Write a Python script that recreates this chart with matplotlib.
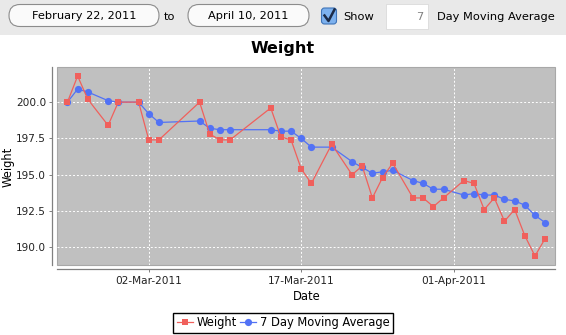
"""Weight log chart with a 7 day moving average, JFreeChart look."""

import matplotlib

matplotlib.use("Agg")

import matplotlib.dates as mdates
import matplotlib.pyplot as plt
import pandas as pd
from matplotlib.lines import Line2D
from matplotlib.patches import FancyBboxPatch, Rectangle

plt.rcParams["font.family"] = ["DejaVu Sans"]

# --- data --------------------------------------------------------------
dates = pd.to_datetime([
    "2011-02-22", "2011-02-23", "2011-02-24", "2011-02-26", "2011-02-27",
    "2011-03-01", "2011-03-02", "2011-03-03", "2011-03-07", "2011-03-08",
    "2011-03-09", "2011-03-10", "2011-03-14", "2011-03-15", "2011-03-16",
    "2011-03-17", "2011-03-18", "2011-03-20", "2011-03-22", "2011-03-23",
    "2011-03-24", "2011-03-25", "2011-03-26", "2011-03-28", "2011-03-29",
    "2011-03-30", "2011-03-31", "2011-04-02", "2011-04-03", "2011-04-04",
    "2011-04-05", "2011-04-06", "2011-04-07", "2011-04-08", "2011-04-09",
    "2011-04-10",
])
weight = [
    200.0, 201.8, 200.2, 198.4, 200.0,
    200.0, 197.4, 197.4, 200.0, 197.8,
    197.4, 197.4, 199.6, 197.6, 197.4,
    195.4, 194.4, 197.1, 195.0, 195.6,
    193.4, 194.8, 195.8, 193.4, 193.4,
    192.8, 193.4, 194.6, 194.4, 192.6,
    193.4, 191.8, 192.6, 190.8, 189.4,
    190.6,
]
moving_avg = [
    200.0, 200.9, 200.7, 200.1, 200.0,
    200.0, 199.2, 198.6, 198.7, 198.2,
    198.1, 198.1, 198.1, 198.0, 198.0,
    197.5, 196.9, 196.9, 195.9, 195.5,
    195.1, 195.2, 195.3, 194.6, 194.4,
    194.0, 194.0, 193.6, 193.7, 193.6,
    193.6, 193.3, 193.2, 192.9, 192.2,
    191.7,
]
tick_dates = pd.to_datetime(["2011-03-02", "2011-03-17", "2011-04-01"])
y_ticks = [190.0, 192.5, 195.0, 197.5, 200.0]
x_range = pd.to_datetime(["2011-02-21", "2011-04-11"])
y_range = (188.8, 202.4)

RED = "#F0605C"
BLUE = "#5272F5"

W, H = 566, 335
fig = plt.figure(figsize=(W / 100, H / 100), dpi=100)
fig.patch.set_facecolor("white")

# --- toolbar above the chart (pixel coordinates) -----------------------
ui = fig.add_axes([0, 0, 1, 1])
ui.set_xlim(0, W)
ui.set_ylim(H, 0)
ui.axis("off")
ui.add_patch(Rectangle((0, 0), W, 35, facecolor="#E9E9E9", edgecolor="none"))

btn_font = 8.2
for x0, w, label in [(9, 150, "February 22, 2011"), (188, 121, "April 10, 2011")]:
    ui.add_patch(FancyBboxPatch((x0, 4.5), w, 22, boxstyle="round,pad=0,rounding_size=11",
                                facecolor="#FAFAFA", edgecolor="#8C8C8C", lw=0.8))
    ui.text(x0 + w / 2, 16, label, ha="center", va="center", fontsize=btn_font)
ui.text(170, 16.5, "to", ha="center", va="center", fontsize=btn_font)

ui.add_patch(FancyBboxPatch((321.5, 8), 15, 16, boxstyle="round,pad=0,rounding_size=3",
                            facecolor="#7DB1EE", edgecolor="#3F74B8", lw=0.8))
ui.add_line(Line2D([324.5, 328.5, 334.5], [15.5, 21, 9.5], color="#1C2B47", lw=1.8))
ui.text(343, 16.5, "Show", ha="left", va="center", fontsize=btn_font)

ui.add_patch(Rectangle((386, 4), 42, 25, facecolor="white", edgecolor="#DADADA", lw=0.6))
ui.text(423, 16.5, "7", ha="right", va="center", fontsize=btn_font, color="#808080")
ui.text(437, 16.5, "Day Moving Average", ha="left", va="center", fontsize=btn_font)

# --- chart -----------------------------------------------------------------
fig.text(W / 2 / W, 1 - 49 / H, "Weight", ha="center", va="center",
         fontsize=11.5, fontweight="bold")
fig.text(8.5 / W, 1 - 167 / H, "Weight", ha="center", va="center",
         rotation=90, fontsize=8.3)

ax = fig.add_axes([57.3 / W, 1 - 264.7 / H, 498 / W, 197.4 / H])
ax.set_facecolor("#C0C0C0")
ax.patch.set_edgecolor("#A8A8A8")
ax.patch.set_linewidth(0.8)

ax.plot(dates, moving_avg, color=BLUE, lw=0.9, marker="o", ms=5.2,
        markeredgewidth=0, label="7 Day Moving Average", zorder=3)
ax.plot(dates, weight, color=RED, lw=0.9, marker="s", ms=5.0,
        markeredgewidth=0, label="Weight", zorder=4)

ax.set_xlim(x_range[0], x_range[1])
ax.set_ylim(*y_range)
ax.set_xticks(tick_dates)
ax.xaxis.set_major_formatter(mdates.DateFormatter("%d-%b-%Y"))
ax.set_yticks(y_ticks)
ax.yaxis.set_major_formatter(plt.FormatStrFormatter("%.1f"))
ax.grid(True, color="white", lw=0.7, linestyle=(0, (2, 2)))
ax.set_axisbelow(True)

for side in ("top", "right"):
    ax.spines[side].set_visible(False)
ax.spines["left"].set_position(("outward", 3.6))
ax.spines["bottom"].set_position(("outward", 3.3))
for side in ("left", "bottom"):
    ax.spines[side].set_color("#808080")
    ax.spines[side].set_linewidth(0.9)
ax.tick_params(axis="both", length=2, width=0.7, color="#808080",
               labelsize=7.6, labelcolor="#222222")
ax.tick_params(axis="x", pad=3)
ax.tick_params(axis="y", pad=2.5)
ax.set_xlabel("Date", fontsize=8.3, labelpad=3)

handles, labels = ax.get_legend_handles_labels()
leg = fig.legend(handles[::-1], labels[::-1], loc="center",
                 bbox_to_anchor=(0.5, (H - 322.7) / H), ncol=2, fontsize=8.3,
                 frameon=True, fancybox=False, edgecolor="black", framealpha=1,
                 handlelength=1.4, handletextpad=0.3, columnspacing=0.3,
                 borderpad=0.3, borderaxespad=0)
leg.get_frame().set_linewidth(1.0)

fig.savefig("out.png", dpi=100)
plt.close(fig)
